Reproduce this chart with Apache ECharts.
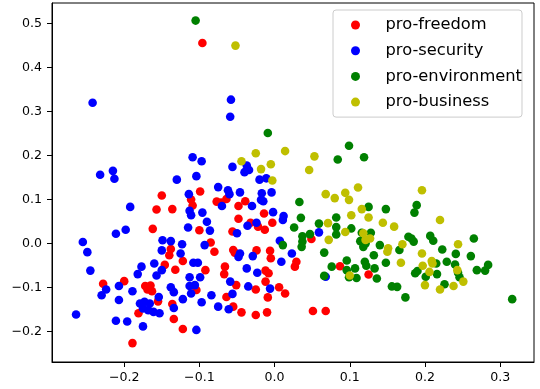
<!DOCTYPE html>
<html>
<head>
<meta charset="utf-8">
<script src="https://cdn.jsdelivr.net/npm/echarts@6/dist/echarts.min.js"></script>
<style>
html,body{margin:0;padding:0;background:#fff;}
#chart{width:540px;height:389px;}
</style>
</head>
<body>
<div id="chart"></div>
<script>
const seriesNames = ['pro-freedom', 'pro-security', 'pro-environment', 'pro-business'];
const xTicks = [-0.2, -0.1, 0.0, 0.1, 0.2, 0.3];
const yTicks = [-0.2, -0.1, 0.0, 0.1, 0.2, 0.3, 0.4, 0.5];

const freedomX = [-0.096,-0.150,-0.157,-0.136,-0.099,-0.111,-0.109,-0.077,-0.071,-0.064,-0.048,-0.039,-0.014,-0.048,-0.032,-0.022,-0.013,-0.003,-0.162,-0.100,-0.056,-0.085,-0.080,-0.138,-0.140,-0.122,-0.146,-0.132,-0.092,-0.055,-0.053,-0.024,-0.006,-0.005,-0.066,-0.067,-0.012,-0.008,0.029,0.027,0.049,0.087,0.125,0.051,0.068,-0.228,-0.200,-0.172,-0.165,-0.169,-0.163,-0.155,-0.136,-0.104,-0.181,-0.134,-0.122,-0.189,-0.051,-0.025,-0.012,0.006,0.014,-0.064,-0.009,-0.055,-0.044,-0.025,-0.010];
const freedomY = [0.456,0.109,0.077,0.078,0.118,0.100,0.086,0.095,0.093,0.101,0.085,0.096,0.068,0.056,0.047,0.038,0.031,0.047,0.033,0.030,0.027,0.002,-0.019,-0.013,-0.027,-0.040,-0.049,-0.060,-0.061,-0.015,-0.021,-0.016,-0.017,-0.034,-0.053,-0.070,-0.062,-0.068,-0.042,-0.053,0.010,-0.052,-0.071,-0.154,-0.154,-0.092,-0.086,-0.097,-0.096,-0.105,-0.109,-0.132,-0.138,-0.106,-0.159,-0.172,-0.195,-0.227,-0.095,-0.105,-0.087,-0.100,-0.114,-0.122,-0.123,-0.144,-0.157,-0.163,-0.157];

const securityX = [-0.242,-0.232,-0.215,-0.213,-0.192,-0.198,-0.211,-0.255,-0.249,-0.245,-0.264,-0.230,-0.224,-0.207,-0.207,-0.211,-0.196,-0.189,-0.175,-0.182,-0.177,-0.160,-0.157,-0.150,-0.154,-0.179,-0.173,-0.166,-0.175,-0.168,-0.161,-0.153,-0.134,-0.138,-0.134,-0.122,-0.149,-0.138,-0.150,-0.123,-0.125,-0.115,-0.113,-0.111,-0.096,-0.090,-0.086,-0.093,-0.108,-0.102,-0.113,-0.099,-0.113,-0.106,-0.111,-0.097,-0.084,-0.075,-0.104,-0.130,-0.109,-0.097,-0.104,-0.114,-0.075,-0.058,-0.059,-0.056,-0.037,-0.040,-0.034,-0.020,-0.011,-0.062,-0.060,-0.046,-0.017,-0.018,-0.015,-0.004,-0.070,-0.030,-0.002,0.012,-0.036,-0.024,-0.050,-0.046,-0.048,-0.029,0.007,0.023,0.009,-0.037,-0.023,-0.059,-0.056,-0.035,-0.006,-0.061,0.059,0.068,0.011];
const securityY = [0.320,0.156,0.165,0.147,0.083,0.031,0.022,0.003,-0.020,-0.062,-0.162,-0.118,-0.105,-0.097,-0.129,-0.176,-0.178,-0.109,-0.189,-0.070,-0.053,-0.046,-0.073,-0.061,-0.122,-0.137,-0.133,-0.137,-0.148,-0.152,-0.156,-0.159,-0.147,-0.100,-0.111,-0.127,0.007,0.005,-0.016,-0.002,-0.023,0.036,0.074,0.064,0.070,0.049,0.029,-0.004,-0.044,-0.044,-0.077,-0.077,-0.097,-0.095,-0.114,-0.134,-0.118,-0.144,-0.197,0.145,0.196,0.187,0.153,0.112,0.128,0.327,0.288,0.174,0.177,0.162,0.167,0.145,0.148,0.121,0.112,0.116,0.114,0.099,0.096,0.116,0.085,0.085,0.071,0.062,0.040,0.047,0.023,-0.023,-0.031,-0.029,0.006,-0.023,-0.042,-0.057,-0.067,-0.087,-0.115,-0.098,-0.103,-0.150,0.025,-0.076,0.053];

const environmentX = [-0.105,-0.009,0.099,0.084,0.119,0.033,0.035,0.026,0.011,0.037,0.037,0.036,0.047,0.059,0.082,0.082,0.082,0.102,0.125,0.148,0.189,0.186,0.066,0.076,0.066,0.096,0.096,0.107,0.099,0.109,0.116,0.128,0.114,0.121,0.132,0.140,0.120,0.122,0.133,0.136,0.148,0.156,0.163,0.174,0.166,0.182,0.185,0.178,0.187,0.190,0.207,0.211,0.223,0.215,0.229,0.240,0.216,0.201,0.226,0.241,0.244,0.246,0.261,0.265,0.269,0.280,0.284,0.316,0.118];
const environmentY = [0.507,0.251,0.222,0.191,0.196,0.094,0.058,0.036,-0.004,0.016,0.004,-0.008,0.021,0.045,0.059,0.037,0.020,0.034,0.083,0.078,0.087,0.070,-0.021,-0.053,-0.074,-0.039,-0.061,-0.057,-0.077,-0.079,0.024,0.024,0.005,0.000,-0.027,-0.004,-0.042,-0.051,-0.057,-0.080,-0.044,-0.098,-0.099,-0.123,-0.015,0.011,0.004,0.015,-0.068,-0.063,0.017,0.006,-0.014,-0.046,-0.042,-0.048,-0.070,-0.076,-0.093,-0.024,-0.067,-0.077,-0.029,0.011,-0.061,-0.062,-0.049,-0.127,-0.008];

const businessX = [-0.052,-0.025,-0.044,-0.005,-0.018,0.014,-0.003,0.053,0.046,0.068,0.080,0.094,0.099,0.111,0.196,0.116,0.102,0.125,0.220,0.071,0.144,0.159,0.094,0.072,0.118,0.121,0.127,0.151,0.150,0.170,0.168,0.196,0.209,0.210,0.197,0.206,0.244,0.243,0.200,0.220,0.238,0.251,0.100];
const businessY = [0.450,0.205,0.187,0.180,0.169,0.210,0.143,0.198,0.167,0.112,0.103,0.115,0.099,0.127,0.121,0.078,0.064,0.059,0.053,0.046,0.047,0.038,0.026,0.008,0.023,0.008,0.011,-0.011,-0.019,-0.002,-0.044,-0.023,-0.040,-0.046,-0.051,-0.065,-0.002,-0.061,-0.095,-0.105,-0.097,-0.087,-0.073];

const seriesX = [freedomX, securityX, environmentX, businessX];
const seriesY = [freedomY, securityY, environmentY, businessY];
const colors = ['#ff0000', '#0000ff', '#008000', '#bfbf00'];

const fmt = v => (v < -1e-9 ? '\u2212' + Math.abs(v).toFixed(1) : Math.abs(v).toFixed(1));
const FONT = 'DejaVu Sans';

const chart = echarts.init(document.getElementById('chart'), null, {renderer: 'canvas'});
chart.setOption({
  animation: false,
  backgroundColor: '#ffffff',
  grid: {left: 52, right: 6, top: 3, bottom: 27, show: true, borderColor: '#000', borderWidth: 1, backgroundColor: 'transparent'},
  xAxis: {
    type: 'value', min: -0.296, max: 0.345,
    splitLine: {show: false},
    axisLine: {show: true, onZero: false, lineStyle: {color: '#000', width: 1}},
    axisTick: {show: true, inside: false, length: 5, lineStyle: {color: '#000'}, customValues: xTicks},
    axisLabel: {customValues: xTicks, formatter: fmt, color: '#000', fontSize: 12.6, fontFamily: FONT, margin: 9, showMinLabel: true, showMaxLabel: true}
  },
  yAxis: {
    type: 'value', min: -0.270, max: 0.547,
    splitLine: {show: false},
    axisLine: {show: true, onZero: false, lineStyle: {color: '#000', width: 1}},
    axisTick: {show: true, inside: false, length: 5, lineStyle: {color: '#000'}, customValues: yTicks},
    axisLabel: {customValues: yTicks, formatter: fmt, color: '#000', fontSize: 12.6, fontFamily: FONT, margin: 10}
  },
  legend: {
    orient: 'vertical', left: 333, top: 10,
    padding: [7, 0, 7, 18],
    itemWidth: 10, itemHeight: 9, itemGap: 9.7,
    icon: 'circle',
    backgroundColor: 'rgba(255,255,255,0.8)',
    borderColor: '#cccccc', borderWidth: 1, borderRadius: 3,
    textStyle: {color: '#000', fontSize: 16.3, fontFamily: FONT, padding: [0, 0, 0, 20]},
    data: seriesNames
  },
  series: seriesNames.map((name, i) => ({
    name: name,
    type: 'scatter',
    symbol: 'circle',
    symbolSize: 8.6,
    itemStyle: {color: colors[i], opacity: 1},
    emphasis: {disabled: true},
    data: seriesX[i].map((x, j) => [x, seriesY[i][j]])
  }))
});
</script>
</body>
</html>
